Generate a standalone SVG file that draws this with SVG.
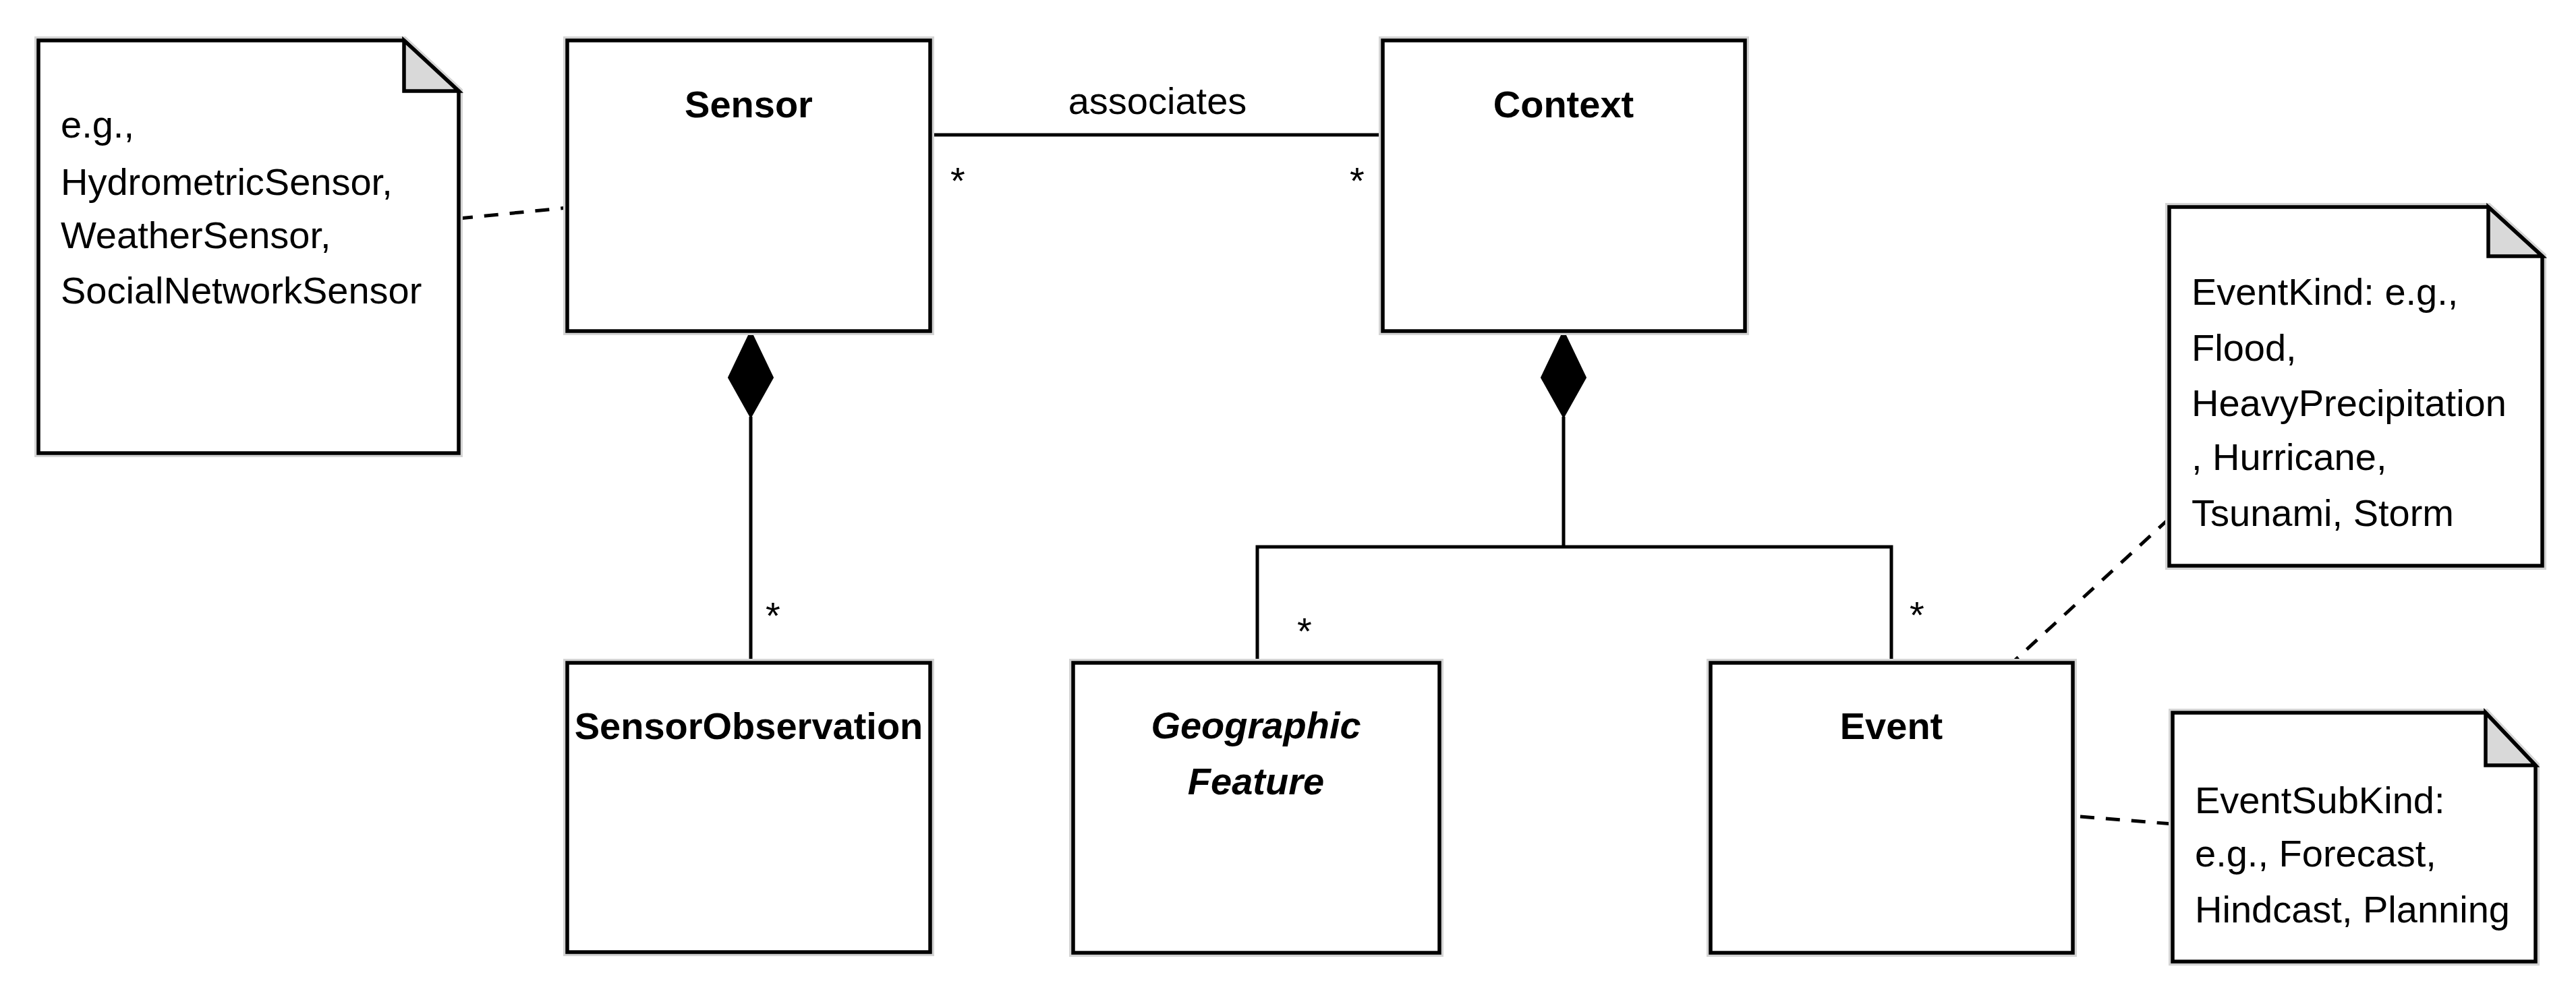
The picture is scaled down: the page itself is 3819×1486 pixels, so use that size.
<svg xmlns="http://www.w3.org/2000/svg" width="3819" height="1486" viewBox="0 0 3819 1486">
<defs>
<style>
.box{fill:#fff;stroke:#000;stroke-width:5.5}
.halo{fill:none;stroke:#d4d4d4;stroke-width:12}
.fold{fill:#d9d9d9;stroke:#000;stroke-width:5.5;stroke-linejoin:miter}
.t{font-family:"Liberation Sans",Arial,sans-serif;font-size:56px;fill:#000}
.b{font-weight:bold;text-anchor:middle}
.bi{font-weight:bold;font-style:italic;text-anchor:middle}
.line{fill:none;stroke:#000;stroke-width:5}
.dash{fill:none;stroke:#000;stroke-width:5;stroke-dasharray:21 17}
.dia{fill:#000;stroke:#000;stroke-width:2}
</style>
</defs>
<rect width="3819" height="1486" fill="#fff"/>
<g id="connectors">
<line class="line" x1="1379" y1="200" x2="2050" y2="200"/>
<path class="line" d="M1113 618 V983"/>
<path class="dia" d="M1113 491 L1146 560 L1113 619 L1080 560 Z"/>
<path class="line" d="M2318 618 V811 M1864 983 V811 H2804 V983"/>
<path class="dia" d="M2318 491 L2351 560 L2318 619 L2285 560 Z"/>
<line class="dash" x1="680" y1="324" x2="841" y2="308"/>
<line class="dash" x1="3216" y1="769" x2="2983" y2="983"/>
<line class="dash" x1="3084" y1="1211" x2="3221" y2="1222"/>
<text class="t" x="1716" y="169" text-anchor="middle">associates</text>
<text class="t" x="1409" y="287">*</text>
<text class="t" x="2001" y="287">*</text>
<text class="t" x="1135" y="932">*</text>
<text class="t" x="1923" y="955">*</text>
<text class="t" x="2831" y="931">*</text>
</g>
<g id="note-sensor-kinds">
<path class="halo" d="M57 60 H599 L680 135 V672 H57 Z"/>
<path class="box" d="M57 60 H599 L680 135 V672 H57 Z"/>
<path class="fold" d="M599 60 V135 H680 Z"/>
<text class="t" x="90" y="204">e.g.,</text>
<text class="t" x="90" y="289">HydrometricSensor,</text>
<text class="t" x="90" y="368">WeatherSensor,</text>
<text class="t" x="90" y="450">SocialNetworkSensor</text>
</g>
<g id="sensor">
<rect class="halo" x="841" y="60" width="538" height="431"/>
<rect class="box" x="841" y="60" width="538" height="431"/>
<text class="t b" x="1110" y="174">Sensor</text>
</g>
<g id="context">
<rect class="halo" x="2050" y="60" width="537" height="431"/>
<rect class="box" x="2050" y="60" width="537" height="431"/>
<text class="t b" x="2318" y="174">Context</text>
</g>
<g id="sensor-observation">
<rect class="halo" x="841" y="983" width="538" height="429"/>
<rect class="box" x="841" y="983" width="538" height="429"/>
<text class="t b" x="1110" y="1096">SensorObservation</text>
</g>
<g id="geographic-feature">
<rect class="halo" x="1591" y="983" width="543" height="430"/>
<rect class="box" x="1591" y="983" width="543" height="430"/>
<text class="t bi" x="1862" y="1095">Geographic</text>
<text class="t bi" x="1862" y="1178">Feature</text>
</g>
<g id="event">
<rect class="halo" x="2536" y="983" width="537" height="430"/>
<rect class="box" x="2536" y="983" width="537" height="430"/>
<text class="t b" x="2804" y="1096">Event</text>
</g>
<g id="note-event-kind">
<path class="halo" d="M3216 307 H3689 L3769 380 V839 H3216 Z"/>
<path class="box" d="M3216 307 H3689 L3769 380 V839 H3216 Z"/>
<path class="fold" d="M3689 307 V380 H3769 Z"/>
<text class="t" x="3249" y="452">EventKind: e.g.,</text>
<text class="t" x="3249" y="535">Flood,</text>
<text class="t" x="3249" y="617">HeavyPrecipitation</text>
<text class="t" x="3249" y="697">, Hurricane,</text>
<text class="t" x="3249" y="780">Tsunami, Storm</text>
</g>
<g id="note-event-subkind">
<path class="halo" d="M3221 1057 H3685 L3759 1135 V1426 H3221 Z"/>
<path class="box" d="M3221 1057 H3685 L3759 1135 V1426 H3221 Z"/>
<path class="fold" d="M3685 1057 V1135 H3759 Z"/>
<text class="t" x="3254" y="1206">EventSubKind:</text>
<text class="t" x="3254" y="1285">e.g., Forecast,</text>
<text class="t" x="3254" y="1368">Hindcast, Planning</text>
</g>
</svg>
